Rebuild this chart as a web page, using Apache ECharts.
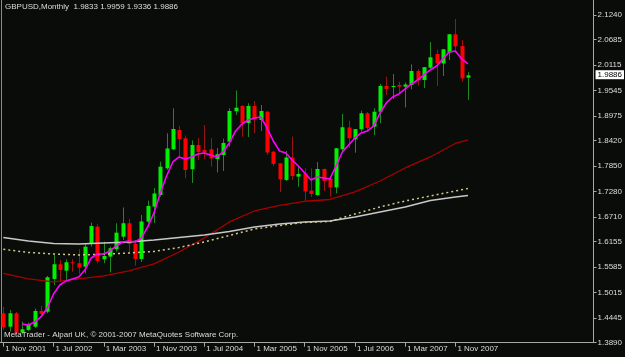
<!DOCTYPE html>
<html>
<head>
<meta charset="utf-8">
<title>GBPUSD Monthly</title>
<script src="https://cdn.jsdelivr.net/npm/echarts@6/dist/echarts.min.js"></script>
<style>
  html, body { margin: 0; padding: 0; background: #0a0c0a; }
  #chart { width: 625px; height: 357px; }
</style>
</head>
<body>
<div id="chart"></div>
<script>
// ── Data ─────────────────────────────────────────
var symbolName = 'GBPUSD,Monthly';
var footerText = 'MetaTrader - Alpari UK, \u00a9 2001-2007 MetaQuotes Software Corp.';
var monthNames = ['Jan', 'Feb', 'Mar', 'Apr', 'May', 'Jun', 'Jul', 'Aug', 'Sep', 'Oct', 'Nov', 'Dec'];
var firstYear = 2001, firstMonth = 10;   // Nov 2001
var emptySlots = 20;                     // free space right of the last bar

var opens = [1.4550, 1.4250, 1.4550, 1.4115, 1.4176, 1.4250, 1.4602, 1.4586, 1.5320, 1.5649,
  1.5506, 1.5694, 1.5672, 1.5595, 1.6105, 1.6492, 1.5761, 1.5820, 1.5986, 1.6268,
  1.6569, 1.6105, 1.5768, 1.6605, 1.6941, 1.7203, 1.7802, 1.8228, 1.8661, 1.8475,
  1.7780, 1.8325, 1.8213, 1.8228, 1.8011, 1.8100, 1.8399, 1.9080, 1.9199, 1.8818,
  1.9199, 1.8885, 1.9071, 1.8174, 1.7914, 1.7540, 1.8044, 1.7614, 1.7686, 1.7300,
  1.7203, 1.7786, 1.7562, 1.7372, 1.8228, 1.8717, 1.8452, 1.8677, 1.9036, 1.8735,
  1.9071, 1.9648, 1.9625, 1.9670, 1.9632, 1.9670, 1.9984, 1.9782, 2.0058, 2.0365,
  2.0152, 2.0399, 2.0807, 2.0545, 1.9833];
var highs = [1.4692, 1.4624, 1.4580, 1.4362, 1.4340, 1.4653, 1.4714, 1.5387, 1.5873, 1.5746,
  1.5761, 1.5761, 1.5992, 1.6120, 1.6582, 1.6546, 1.6156, 1.6044, 1.6569, 1.6923,
  1.6665, 1.6194, 1.6755, 1.7076, 1.7360, 1.7950, 1.8587, 1.9148, 1.8751, 1.8538,
  1.8426, 1.8482, 1.8773, 1.8475, 1.8257, 1.8466, 1.9148, 1.9547, 1.9222, 1.9260,
  1.9311, 1.9222, 1.9087, 1.8190, 1.7921, 1.8190, 1.8511, 1.7876, 1.7802, 1.7798,
  1.7943, 1.7798, 1.7600, 1.8257, 1.9020, 1.8870, 1.8683, 1.9094, 1.9065, 1.9148,
  1.9693, 1.9856, 1.9917, 1.9744, 1.9726, 2.0134, 2.0029, 2.0074, 2.0635, 2.0466,
  2.0478, 2.0814, 2.1150, 2.0679, 1.9959];
var lows = [1.4176, 1.4138, 1.4086, 1.4075, 1.4153, 1.4221, 1.4474, 1.4550, 1.5185, 1.5259,
  1.5297, 1.5483, 1.5432, 1.5447, 1.6044, 1.5672, 1.5672, 1.5465, 1.5932, 1.6194,
  1.5925, 1.5618, 1.5701, 1.6569, 1.6575, 1.7165, 1.7764, 1.8213, 1.8033, 1.7578,
  1.7472, 1.7988, 1.8011, 1.7838, 1.7708, 1.7742, 1.8287, 1.8997, 1.8511, 1.8504,
  1.8587, 1.8639, 1.8100, 1.7854, 1.7271, 1.7517, 1.7540, 1.7389, 1.7053, 1.7158,
  1.7181, 1.7293, 1.7165, 1.7241, 1.8190, 1.8257, 1.8152, 1.8623, 1.8616, 1.8549,
  1.8811, 1.9446, 1.9356, 1.9484, 1.9166, 1.9569, 1.9648, 1.9603, 2.0029, 1.9648,
  1.9872, 2.0231, 2.0388, 1.9744, 1.9336];
var closes = [1.4236, 1.4550, 1.4115, 1.4191, 1.4288, 1.4602, 1.4535, 1.5358, 1.5649, 1.5521,
  1.5694, 1.5672, 1.5573, 1.6044, 1.6508, 1.5723, 1.5835, 1.6008, 1.6358, 1.6569,
  1.6105, 1.5768, 1.6609, 1.6957, 1.7237, 1.7838, 1.8246, 1.8683, 1.8459, 1.7764,
  1.8325, 1.8168, 1.8152, 1.8022, 1.8116, 1.8370, 1.9087, 1.9161, 1.8818, 1.9199,
  1.8901, 1.9087, 1.8156, 1.7899, 1.7555, 1.8044, 1.7629, 1.7674, 1.7282, 1.7226,
  1.7786, 1.7517, 1.7372, 1.8251, 1.8722, 1.8475, 1.8679, 1.9036, 1.8706, 1.9071,
  1.9648, 1.9580, 1.9648, 1.9632, 1.9681, 1.9984, 1.9778, 2.0069, 2.0291, 2.0152,
  2.0471, 2.0807, 2.0538, 1.9820, 1.9886];

// fast moving average (magenta), one value per bar
var maFast = [null, null, null, 1.4310, 1.4288, 1.4355, 1.4467, 1.4669, 1.4983, 1.5185,
  1.5275, 1.5320, 1.5364, 1.5521, 1.5790, 1.5880, 1.5880, 1.5947, 1.6060, 1.6149,
  1.6172, 1.6149, 1.6239, 1.6486, 1.6800, 1.7248, 1.7629, 1.7943, 1.8056, 1.8011,
  1.8056, 1.8123, 1.8145, 1.8100, 1.8056, 1.8168, 1.8370, 1.8639, 1.8796, 1.8885,
  1.8930, 1.8953, 1.8706, 1.8414, 1.8190, 1.8145, 1.7988, 1.7854, 1.7697, 1.7540,
  1.7607, 1.7585, 1.7562, 1.7854, 1.8168, 1.8325, 1.8482, 1.8594, 1.8639, 1.8751,
  1.9042, 1.9267, 1.9401, 1.9468, 1.9580, 1.9693, 1.9782, 1.9894, 2.0007, 2.0096,
  2.0253, 2.0410, 2.0433, 2.0253, 2.0141];

// slow averages, read at every 4th bar
var slowIdx    = [0, 4, 8, 12, 16, 20, 24, 28, 32, 36, 40, 44, 48, 52, 56, 60, 64, 68, 72, 74];
var maRed      = [1.5443, 1.5320, 1.5252, 1.5320, 1.5387, 1.5499, 1.5656, 1.5925, 1.6239, 1.6598,
  1.6844, 1.6968, 1.7062, 1.7102, 1.7271, 1.7517, 1.7809, 1.8056, 1.8358, 1.8437];
var maSilver   = [1.6250, 1.6172, 1.6116, 1.6105, 1.6127, 1.6149, 1.6194, 1.6250, 1.6306, 1.6385,
  1.6486, 1.6553, 1.6598, 1.6620, 1.6710, 1.6822, 1.6934, 1.7080, 1.7158, 1.7192];
var maKhaki    = [1.5986, 1.5914, 1.5880, 1.5858, 1.5873, 1.5903, 1.5936, 1.6026, 1.6149, 1.6295,
  1.6441, 1.6519, 1.6587, 1.6609, 1.6777, 1.6934, 1.7069, 1.7181, 1.7293, 1.7349];

var yTicks = [1.3890, 1.4445, 1.5015, 1.5585, 1.6155, 1.6710, 1.7280, 1.7850,
  1.8420, 1.8975, 1.9545, 2.0115, 2.0685, 2.1240];
var yMin = 1.3890, yMax = 2.1576;
var xLabelEvery = 8;

// ── Colours ──────────────────────────────────────
var bodyUp = '#00f000', bodyDown = '#ff0000';
var wickUp = '#1f8a1f', wickDown = '#9a1414';
var textColor = '#dcdcdc';
var frameColor = '#a8a8a8';
var fontFace = 'Liberation Sans, Arial, sans-serif';

// ── Helpers ──────────────────────────────────────
var categories = [];
for (var k = 0; k < closes.length + emptySlots; k++) {
  if (k < closes.length) {
    var m = firstMonth + k;
    categories.push('1 ' + monthNames[m % 12] + ' ' + (firstYear + Math.floor(m / 12)));
  } else {
    categories.push('');
  }
}

function samplePairs(values) {
  return slowIdx.map(function (i, n) { return [i, values[n]]; });
}

function showTick(index) {
  return index % xLabelEvery === 0 && index < closes.length;
}

function renderCandle(params, api) {
  var i = api.value(0);
  var o = api.value(1), c = api.value(2), lo = api.value(3), hi = api.value(4);
  var pTop = api.coord([i, Math.max(o, c)]);
  var pBot = api.coord([i, Math.min(o, c)]);
  var pHi = api.coord([i, hi]);
  var pLo = api.coord([i, lo]);
  var x0 = Math.round(pTop[0]);
  var rising = c >= o;
  return {
    type: 'group',
    children: [
      {
        type: 'line',
        shape: { x1: x0 + 0.5, y1: pHi[1], x2: x0 + 0.5, y2: pLo[1] },
        style: { stroke: rising ? wickUp : wickDown, lineWidth: 1 }
      },
      {
        type: 'rect',
        shape: { x: x0 - 1.5, y: pTop[1], width: 4, height: Math.max(pBot[1] - pTop[1], 1) },
        style: { fill: rising ? bodyUp : bodyDown }
      }
    ]
  };
}

var last = closes.length - 1;
var headerText = symbolName + '  ' +
  [opens[last], highs[last], lows[last], closes[last]].map(function (v) { return v.toFixed(4); }).join(' ');

// ── Chart ────────────────────────────────────────
var chart = echarts.init(document.getElementById('chart'), null, { renderer: 'canvas' });

chart.setOption({
  backgroundColor: '#0a0c0a',
  animation: false,
  title: [
    { text: headerText, left: 5, top: 3, padding: 0,
      textStyle: { color: textColor, fontSize: 8, fontWeight: 'normal', fontFamily: fontFace } },
    { text: footerText, left: 4, top: 331, padding: 0,
      textStyle: { color: textColor, fontSize: 8, fontWeight: 'normal', fontFamily: fontFace } }
  ],
  grid: { left: 3.3, right: 30, top: 0, bottom: 14.3 },
  graphic: [
    { type: 'line', silent: true, shape: { x1: 1.5, y1: 0, x2: 1.5, y2: 343 },
      style: { stroke: '#8c8c8c', lineWidth: 1 } },
    { type: 'line', silent: true, shape: { x1: 0, y1: 342.5, x2: 4, y2: 342.5 },
      style: { stroke: frameColor, lineWidth: 1 } }
  ],
  xAxis: {
    type: 'category',
    data: categories,
    boundaryGap: false,
    axisLine: { lineStyle: { color: frameColor, width: 1 } },
    axisTick: { interval: showTick, length: 4, lineStyle: { color: frameColor } },
    axisLabel: {
      interval: showTick,
      color: textColor,
      fontSize: 8,
      fontFamily: fontFace,
      align: 'left',
      margin: 2,
      padding: [0, 0, 0, 2]
    },
    splitLine: { show: false }
  },
  yAxis: {
    type: 'value',
    position: 'right',
    min: yMin,
    max: yMax,
    axisLine: { show: true, lineStyle: { color: frameColor, width: 1 } },
    axisTick: { show: true, length: 3, customValues: yTicks, lineStyle: { color: frameColor } },
    axisLabel: {
      customValues: yTicks,
      formatter: function (v) { return v.toFixed(4); },
      color: textColor,
      fontSize: 8,
      fontFamily: fontFace,
      margin: 4
    },
    splitLine: { show: false }
  },
  series: [
    {
      name: 'bars',
      type: 'custom',
      renderItem: renderCandle,
      data: closes.map(function (c, i) { return [i, opens[i], c, lows[i], highs[i]]; }),
      encode: { x: 0, y: [1, 2, 3, 4] },
      z: 2
    },
    {
      name: 'slow red',
      type: 'line',
      data: samplePairs(maRed),
      showSymbol: false,
      lineStyle: { color: '#a80000', width: 1.3 },
      z: 3
    },
    {
      name: 'slow silver',
      type: 'line',
      data: samplePairs(maSilver),
      showSymbol: false,
      lineStyle: { color: '#c8c8c8', width: 1.5 },
      z: 3
    },
    {
      name: 'slow khaki',
      type: 'line',
      data: samplePairs(maKhaki),
      showSymbol: false,
      lineStyle: { color: '#d2c68a', width: 1.5, type: [2, 3] },
      z: 3
    },
    {
      name: 'fast',
      type: 'line',
      data: maFast,
      showSymbol: false,
      lineStyle: { color: '#ff00ff', width: 1.6 },
      z: 4,
      markLine: {
        silent: true,
        symbol: ['none', 'none'],
        lineStyle: { color: 'rgba(0,0,0,0)', width: 1, type: 'solid' },
        data: [{ yAxis: closes[last] }],
        label: {
          show: true,
          position: 'end',
          distance: 2,
          formatter: function () { return closes[last].toFixed(4); },
          color: '#000000',
          backgroundColor: '#ffffff',
          padding: [1, 2, 0, 2],
          fontSize: 8,
          fontFamily: fontFace
        }
      }
    }
  ]
});
</script>
</body>
</html>
